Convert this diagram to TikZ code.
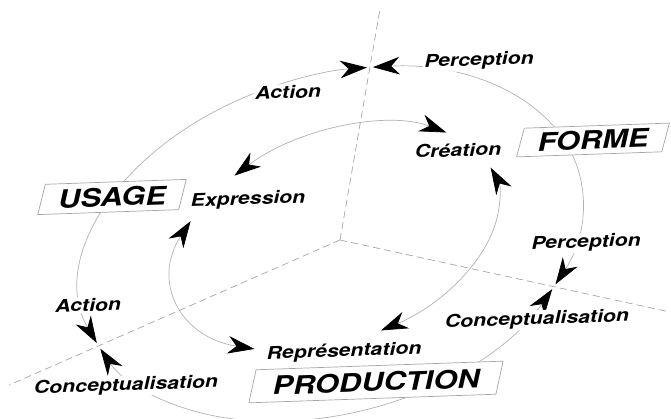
\documentclass[tikz,border=0pt]{standalone}
\usepackage{fontspec}
\newfontfamily\lblfont[FakeStretch=1.22]{TeX Gyre Heros}
\usepackage{tikz}
\usetikzlibrary{shapes.geometric,arrows.meta,calc}

\tikzset{
    axisline/.style={gray!70, line width=0.5pt, dash pattern=on 5pt off 3pt},
    cycleline/.style={gray!60, line width=0.5pt,
        {Stealth[length=19pt,width=12.5pt,inset=6pt,black]}-{Stealth[length=19pt,width=12.5pt,inset=6pt,black]}},
    word/.style={font={\lblfont\bfseries\itshape\fontsize{12.4}{14}\selectfont},
        fill=white, inner sep=1pt, rotate=2},
    pole/.style={draw=gray!70, line width=0.5pt, fill=white, trapezium,
        trapezium left angle=75, trapezium right angle=105, trapezium stretches=true,
        font={\lblfont\bfseries\itshape\fontsize{18}{20}\selectfont}, rotate=2}
}

\begin{document}
\begin{tikzpicture}[x=0.025cm, y=0.025cm]
    \useasboundingbox (0,0) rectangle (671,419);
    \coordinate (O) at (340,179); % origin of the axes

    % outer cycle
    \begin{scope}[shift={(332,175)}, rotate=17]
        \coordinate (A) at (70:257 and 168); % vertical axis
        \coordinate (B) at (-39:257 and 168); % right axis
        \coordinate (C) at (190:257 and 168); % left axis
        \coordinate (uleft) at (188.9:257 and 168);
        \coordinate (ftop) at (69.3:257 and 168);
        \coordinate (pright) at (-39.8:257 and 168);
        \draw[cycleline] (uleft) arc[start angle=188.9, end angle=70.7, x radius=257, y radius=168]; % usage side
        \draw[cycleline] (ftop) arc[start angle=69.3, end angle=-38.2, x radius=257, y radius=168]; % forme side
        \draw[cycleline] (pright) arc[start angle=-39.8, end angle=-168.9, x radius=257, y radius=168]; % production side
    \end{scope}

    % inner cycle
    \begin{scope}[shift={(336,182)}, rotate=20.8]
        \coordinate (cretop) at (34.4:170 and 103.5);
        \coordinate (explow) at (140:170 and 103.5);
        \coordinate (repright) at (273:170 and 103.5);
        \draw[cycleline] (cretop) arc[start angle=34.4, end angle=115.5, x radius=170, y radius=103.5];
        \draw[cycleline] (explow) arc[start angle=140, end angle=227, x radius=170, y radius=103.5];
        \draw[cycleline] (repright) arc[start angle=273, end angle=365.5, x radius=170, y radius=103.5];
    \end{scope}

    % axes
    \draw[axisline] (O) -- ($(O)!1.34!(A)$);
    \draw[axisline] (O) -- ($(O)!1.37!(C)$);
    \draw[axisline] (O) -- ($(O)!1.54!(B)$);

    % labels
    \node[word] (actionu) at (288,327) {Action};
    \node[word] (percepf) at (479,358) {Perception};
    \node[word] (creation) at (458,269) {Création};
    \node[word] (expression) at (248,219) {Expression};
    \node[word] (percepp) at (586,176) {Perception};
    \node[word] (concepp) at (537,99) {Conceptualisation};
    \node[word] (repres) at (344,67) {Représentation};
    \node[word] (actionc) at (88,114) {Action};
    \node[word] (concepc) at (126,33) {Conceptualisation};

    % poles
    \node[pole, minimum width=3.75cm, minimum height=0.75cm] (usage) at (112,222) {USAGE};
    \node[pole, minimum width=3.88cm, minimum height=0.68cm] (forme) at (593,279) {FORME};
    \node[pole, minimum width=6.4cm, minimum height=0.82cm] (production) at (376,37) {PRODUCTION};
\end{tikzpicture}
\end{document}
